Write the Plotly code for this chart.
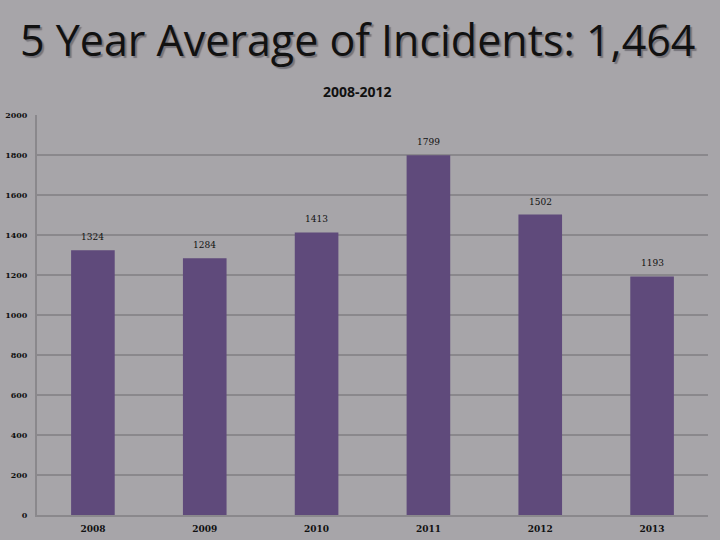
import plotly.graph_objects as go

years = ["2008", "2009", "2010", "2011", "2012", "2013"]
incidents = [1324, 1284, 1413, 1799, 1502, 1193]
y_ticks = [0, 200, 400, 600, 800, 1000, 1200, 1400, 1600, 1800, 2000]

bg = "#a7a5a9"
grid = "#8a888c"
fig = go.Figure(go.Bar(
    x=years, y=incidents, marker_color="#5f4a7b", marker_line_width=0,
))
for i, v in enumerate(incidents):
    fig.add_annotation(x=i, y=v, text=str(v), showarrow=False, yanchor="bottom", yshift=6,
                       font=dict(family="DejaVu Serif", size=9, color="#111111"))
fig.update_layout(
    width=720, height=540, paper_bgcolor=bg, plot_bgcolor=bg,
    margin=dict(l=37, r=12, t=115, b=25, autoexpand=False), bargap=0.61, showlegend=False,
    font=dict(family="DejaVu Sans", color="#111111"),
)
fig.update_xaxes(type="category", range=[-0.5, len(years) - 0.5], showgrid=False, showline=True,
                 linecolor=grid, linewidth=2, automargin=False, ticklabelstandoff=4,
                 tickfont=dict(size=9, family="DejaVu Serif", color="#111111", weight="bold"), ticks="")
fig.update_yaxes(range=[0, 2000], tickvals=y_ticks, showgrid=True, gridcolor=grid, gridwidth=2,
                 showline=True, linecolor=grid, linewidth=2, zeroline=False, automargin=False,
                 tickfont=dict(size=8, family="DejaVu Serif", color="#111111", weight="bold"),
                 ticks="", ticklabelstandoff=6)
title = "5 Year Average of Incidents: 1,464"
fig.add_annotation(text=title, xref="paper", yref="paper", x=0.477, y=1, yshift=76,
                   yanchor="middle", showarrow=False,
                   font=dict(family="Open Sans", size=43, color="#111111",
                             shadow="2px 2px 1px #76747a"))
fig.add_annotation(text="<b>2008-2012</b>", xref="paper", yref="paper", x=0.477, y=1, yshift=24,
                   yanchor="middle", showarrow=False, font=dict(family="Open Sans", size=14, color="#111111"))
fig.write_html("out.html", config={"displayModeBar": False},
               post_script="document.body.style.margin='0';")
